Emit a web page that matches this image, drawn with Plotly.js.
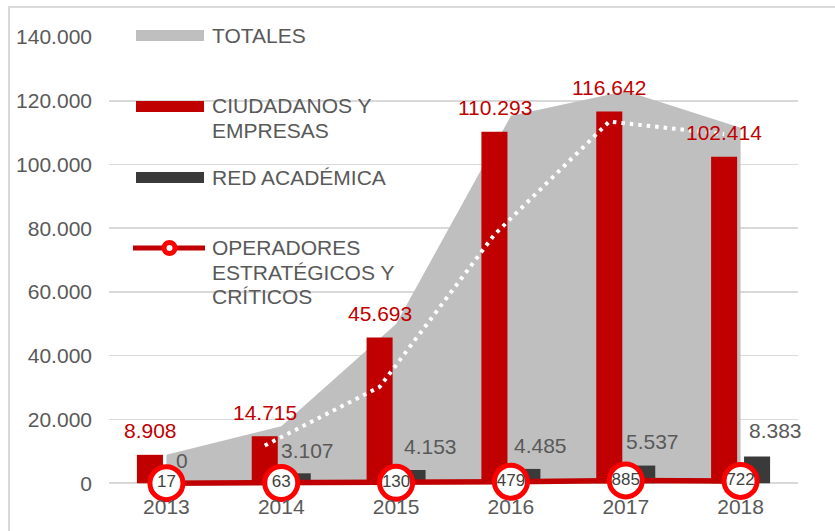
<!DOCTYPE html>
<html><head><meta charset="utf-8">
<script src="https://cdn.plot.ly/plotly-3.0.1.min.js"></script>
<style>html,body{margin:0;padding:0;background:#fff;}#chart{width:835px;height:531px;}</style>
</head><body><div id="chart"></div>
<script>
// ---- data ----
const years = ['2013', '2014', '2015', '2016', '2017', '2018'];
const totales = [8925, 17885, 49976, 115257, 123064, 111519];
const ciudadanos = [8908, 14715, 45693, 110293, 116642, 102414];
const redAcademica = [0, 3107, 4153, 4485, 5537, 8383];
const operadores = [17, 63, 130, 479, 885, 722];
const mediaMovil = [null, 11811, 30204, 77993, 113467, 109528];
const yTicks = [0, 20000, 40000, 60000, 80000, 100000, 120000, 140000];

// ---- styling ----
const FONT = 'Liberation Sans, Arial, sans-serif';
const TXT = '#595959';
const GREY = '#bfbfbf', RED = '#c00000', DARK = '#3a3a3a', BRIGHT = '#ff0000';
const M = {l: 109, r: 37, t: 37, b: 43};
const W = 835, H = 531;
const PW = W - M.l - M.r, PH = H - M.t - M.b;
const px = v => (v - M.l) / PW;
const py = v => (H - M.b - v) / PH;
const shift = 16.5 / (PW / 6);  // red-bar centre offset in category units
const darkDx = [15.6, 26.3, 34.5, 29.5, 26.9, 35.1];
const darkDy = [23, 23, 23, 23, 24, 26];

const fmt = n => String(n).replace(/\B(?=(\d{3})+(?!\d))/g, '.');

const traces = [
  {type: 'scatter', x: years, y: totales, xaxis: 'x', yaxis: 'y', mode: 'none',
   fill: 'tozeroy', fillcolor: GREY, hoverinfo: 'skip', name: 'TOTALES'},
  {type: 'bar', x: years, y: ciudadanos, xaxis: 'x2', yaxis: 'y2', name: 'CIUDADANOS Y EMPRESAS',
   marker: {color: RED, line: {width: 0}}},
  {type: 'bar', x: years, y: redAcademica, xaxis: 'x2', yaxis: 'y2', name: 'RED ACADÉMICA',
   marker: {color: DARK, line: {width: 0}}},
  {type: 'scatter', x: years, y: operadores, xaxis: 'x2', yaxis: 'y2', name: 'OPERADORES ESTRATÉGICOS Y CRÍTICOS',
   mode: 'lines+markers+text', line: {color: RED, width: 5.5},
   marker: {size: 33, color: '#ffffff', line: {color: BRIGHT, width: 5}},
   text: operadores.map(fmt), textposition: 'middle center',
   textfont: {family: FONT, size: 17, color: '#404040'}, cliponaxis: false},
  {type: 'scatter', x: years, y: mediaMovil, xaxis: 'x3', yaxis: 'y2', mode: 'lines',
   line: {color: '#ffffff', width: 4, dash: '3.5px,5px'}, hoverinfo: 'skip', name: 'Media móvil'}
];

const annotations = [];
years.forEach((yr, i) => {
  const xi = years.indexOf(yr);  // category index on the shared axis
  annotations.push({xref: 'x', yref: 'y', x: xi, y: ciudadanos[i], text: fmt(ciudadanos[i]),
    showarrow: false, xshift: -16.4, yshift: 24, xanchor: 'center', yanchor: 'middle',
    font: {family: FONT, size: 21, color: RED}});
  annotations.push({xref: 'x', yref: 'y', x: xi, y: redAcademica[i], text: fmt(redAcademica[i]),
    showarrow: false, xshift: darkDx[i], yshift: darkDy[i], xanchor: 'center', yanchor: 'middle',
    font: {family: FONT, size: 21, color: TXT}});
});

// legend (drawn manually to match the reference layout)
const legendLines = [
  ['TOTALES', 35], ['CIUDADANOS Y', 106], ['EMPRESAS', 130], ['RED ACADÉMICA', 177],
  ['OPERADORES', 247.5], ['ESTRATÉGICOS Y', 272.5], ['CRÍTICOS', 297]
];
legendLines.forEach(([t, y]) => annotations.push({xref: 'paper', yref: 'paper', x: px(211), y: py(y),
  text: t, showarrow: false, xanchor: 'left', yanchor: 'middle', borderpad: 0,
  font: {family: FONT, size: 21, color: TXT}}));

const shapes = [
  {type: 'rect', xref: 'paper', yref: 'paper', x0: px(9), x1: px(870), y0: py(7), y1: py(570),
   line: {color: '#d9d9d9', width: 2}, fillcolor: 'rgba(0,0,0,0)', layer: 'below'},
  {type: 'rect', xref: 'paper', yref: 'paper', x0: px(136), x1: px(204), y0: py(30), y1: py(41),
   line: {width: 0}, fillcolor: GREY},
  {type: 'rect', xref: 'paper', yref: 'paper', x0: px(136), x1: px(204), y0: py(101), y1: py(112),
   line: {width: 0}, fillcolor: RED},
  {type: 'rect', xref: 'paper', yref: 'paper', x0: px(136), x1: px(204), y0: py(172), y1: py(183),
   line: {width: 0}, fillcolor: DARK},
  {type: 'line', xref: 'paper', yref: 'paper', x0: px(133), x1: px(205), y0: py(248), y1: py(248),
   line: {color: RED, width: 5}},
  {type: 'circle', xref: 'paper', yref: 'paper', x0: px(164), x1: px(175), y0: py(242.5), y1: py(253.5),
   line: {color: BRIGHT, width: 5}, fillcolor: '#ffffff'}
];

const layout = {
  width: W, height: H, margin: {l: M.l, r: M.r, t: M.t, b: M.b, pad: 0},
  paper_bgcolor: '#ffffff', plot_bgcolor: 'rgba(0,0,0,0)',
  separators: ',.', showlegend: false,
  font: {family: FONT, size: 21, color: TXT},
  barmode: 'group', bargap: 0.426, bargroupgap: 0.21,
  xaxis: {type: 'category', range: [-0.5, 5.5], showgrid: false, zeroline: false, showline: false,
    ticks: '', tickfont: {family: FONT, size: 21, color: TXT}, ticklabelstandoff: 4, fixedrange: true},
  yaxis: {range: [-1500, 140000], tickvals: yTicks, tickformat: ',d', showgrid: true,
    gridcolor: '#d9d9d9', gridwidth: 1.5, zeroline: false, showline: false, ticks: '',
    tickfont: {family: FONT, size: 21, color: TXT}, ticklabelstandoff: 16, fixedrange: true},
  xaxis2: {type: 'category', overlaying: 'x', range: [-0.5, 5.5], visible: false},
  yaxis2: {overlaying: 'y', range: [-1500, 140000], visible: false},
  xaxis3: {type: 'category', overlaying: 'x', range: [-0.5 + shift, 5.5 + shift], visible: false},
  annotations: annotations, shapes: shapes
};

Plotly.newPlot('chart', traces, layout, {staticPlot: true, displayModeBar: false});
</script>
</body></html>
